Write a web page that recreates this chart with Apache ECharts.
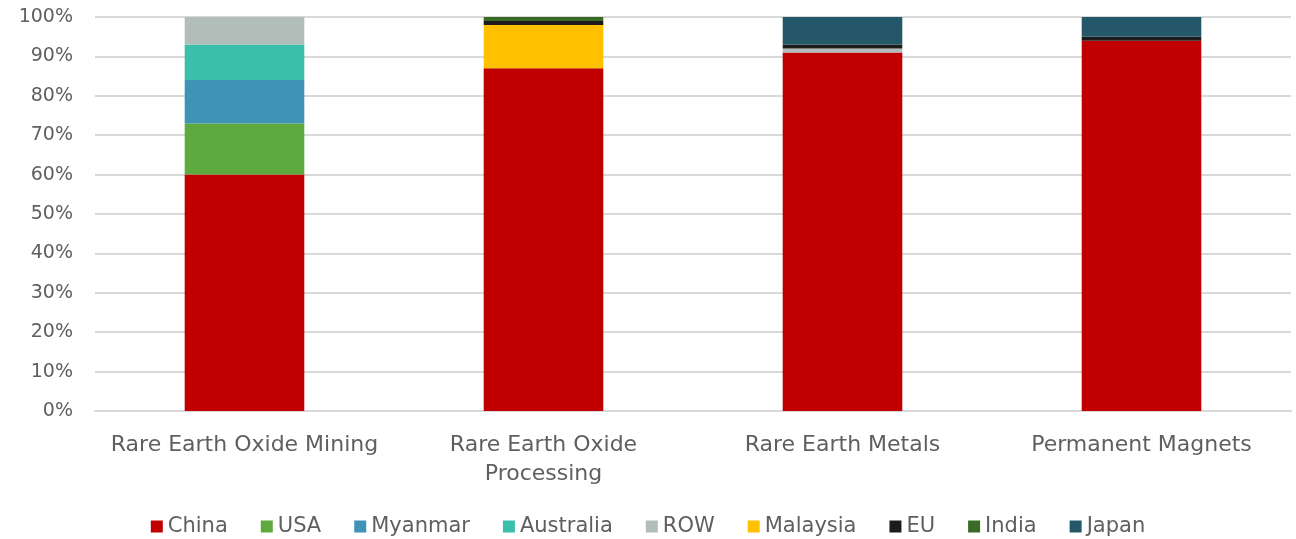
<!DOCTYPE html>
<html>
<head>
<meta charset="utf-8">
<script src="https://cdn.jsdelivr.net/npm/echarts@6/dist/echarts.min.js"></script>
<style>
  html, body { margin: 0; padding: 0; background: #fff; }
  #chart { width: 1296px; height: 539px; }
</style>
</head>
<body>
<div id="chart"></div>
<script>
var categories = ["Rare Earth Oxide Mining", "Rare Earth Oxide\nProcessing", "Rare Earth Metals", "Permanent Magnets"];
var china = [60, 87, 91, 94];
var usa = [13, 0, 0, 0];
var myanmar = [11, 0, 0, 0];
var australia = [9, 0, 0, 0];
var row = [7, 0, 1, 0];
var malaysia = [0, 11, 0, 0];
var eu = [0, 1, 1, 1];
var india = [0, 1, 0, 0];
var japan = [0, 0, 7, 5];

var seriesDefs = [
  { name: "China", data: china, color: "#c00000" },
  { name: "USA", data: usa, color: "#5faa3f" },
  { name: "Myanmar", data: myanmar, color: "#3f93b5" },
  { name: "Australia", data: australia, color: "#3bbfad" },
  { name: "ROW", data: row, color: "#b0bdb8" },
  { name: "Malaysia", data: malaysia, color: "#ffc000" },
  { name: "EU", data: eu, color: "#1c1c1c" },
  { name: "India", data: india, color: "#3a6b26" },
  { name: "Japan", data: japan, color: "#245869" }
];

var font = "'DejaVu Sans', sans-serif";
var textColor = "#5f5f5f";

var myChart = echarts.init(document.getElementById("chart"));
var option = {
  animation: false,
  textStyle: { fontFamily: font },
  grid: { left: 95, right: 5, top: 17, bottom: 128 },
  legend: {
    top: 511,
    left: "center",
    itemWidth: 12,
    itemHeight: 12,
    itemGap: 33,
    icon: "rect",
    textStyle: { fontSize: 21, color: textColor, fontFamily: font },
    data: seriesDefs.map(function (s) { return s.name; })
  },
  xAxis: {
    type: "category",
    data: categories,
    axisLine: { lineStyle: { color: "#d9d9d9", width: 2 } },
    axisTick: { show: false },
    axisLabel: { fontSize: 22, color: textColor, margin: 20, lineHeight: 29, interval: 0 }
  },
  yAxis: {
    type: "value",
    min: 0,
    max: 100,
    interval: 10,
    axisLabel: { fontSize: 19, color: textColor, margin: 22, formatter: "{value}%" },
    splitLine: { lineStyle: { color: "#d9d9d9", width: 2 } },
    axisLine: { show: false },
    axisTick: { show: false }
  },
  series: seriesDefs.map(function (s) {
    return {
      name: s.name,
      type: "bar",
      stack: "total",
      barWidth: "40%",
      data: s.data,
      itemStyle: { color: s.color }
    };
  })
};
myChart.setOption(option);
</script>
</body>
</html>
